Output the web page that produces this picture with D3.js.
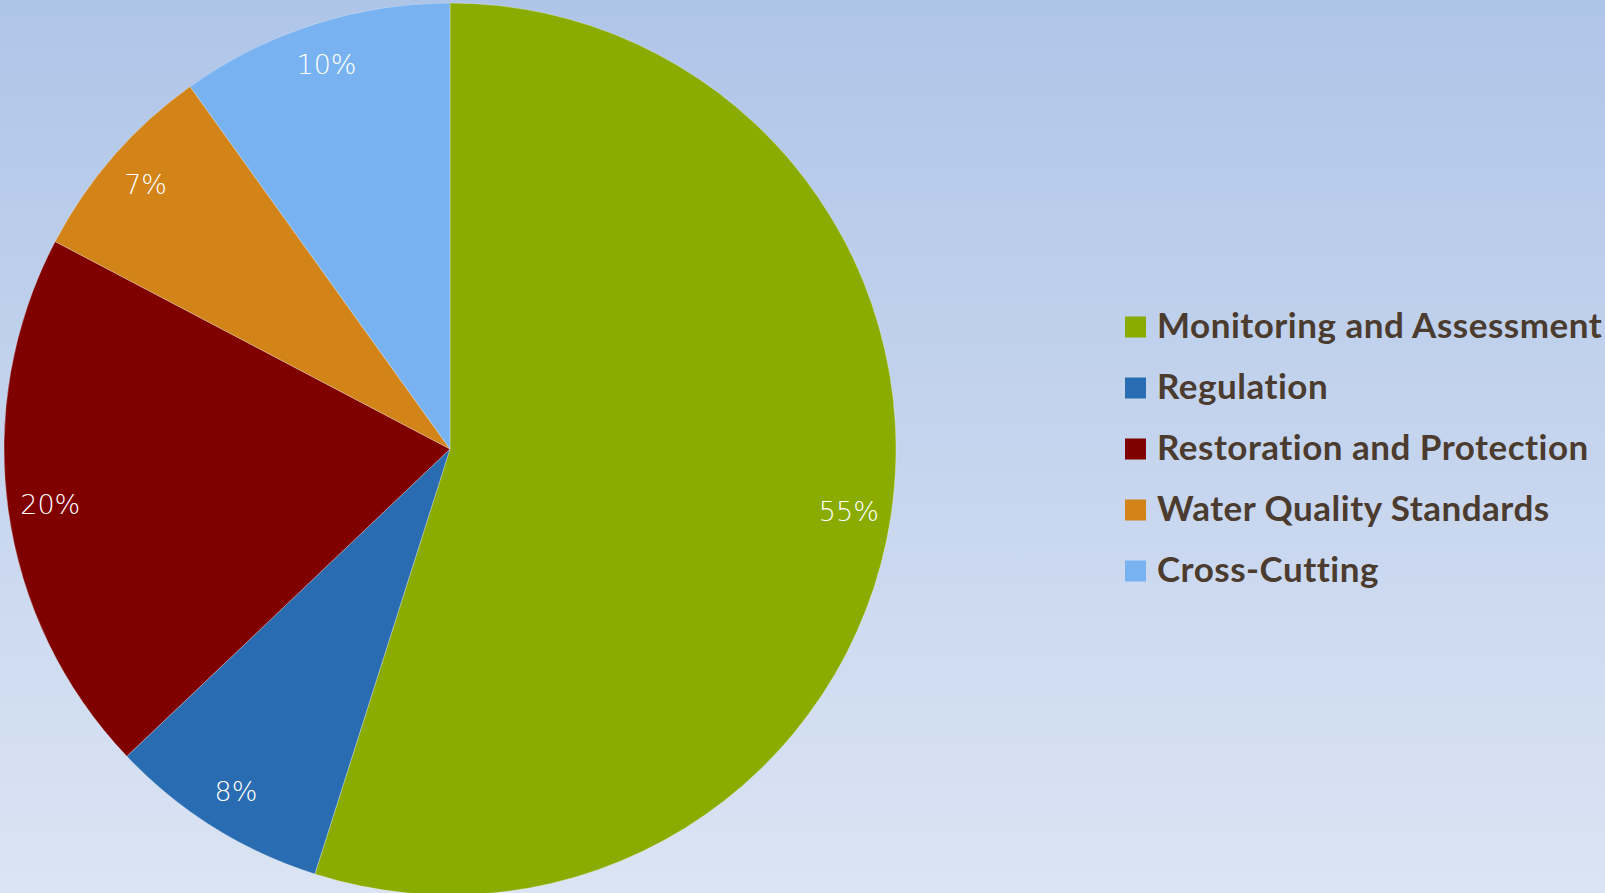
<!DOCTYPE html>
<html>
<head>
<meta charset="utf-8">
<script src="https://cdn.jsdelivr.net/npm/d3@7"></script>
<style>
  body { margin: 0; overflow: hidden; }
  svg { display: block; }
</style>
</head>
<body>
<svg width="1605" height="893"></svg>
<script>
const width = 1605;
const height = 893;

// data
const categories = ["Monitoring and Assessment", "Regulation", "Restoration and Protection", "Water Quality Standards", "Cross-Cutting"];
const shares = [54.9, 8.0, 19.8, 7.4, 9.9];
const labels = ["55%", "8%", "20%", "7%", "10%"];
const colors = ["#8aab00", "#2a6cb1", "#800000", "#d28418", "#78b2f0"];

const data = categories.map((c, i) => ({name: c, value: shares[i], label: labels[i]}));

const svg = d3.select("svg");

// background gradient
const defs = svg.append("defs");
const grad = defs.append("linearGradient")
    .attr("id", "bg")
    .attr("x1", 0).attr("y1", 0)
    .attr("x2", 0).attr("y2", 1);
grad.append("stop").attr("offset", "0%").attr("stop-color", "#afc5e8");
grad.append("stop").attr("offset", "100%").attr("stop-color", "#dbe4f4");

svg.append("rect")
    .attr("width", width)
    .attr("height", height)
    .attr("fill", "url(#bg)");

// pie
const cx = 450, cy = 449, radius = 446;

const pie = d3.pie()
    .value(d => d.value)
    .sort(null);

const arc = d3.arc()
    .innerRadius(0)
    .outerRadius(radius);

// labels sit a bit further out than the default centroid
const labelArc = d3.arc()
    .innerRadius(radius * 0.81)
    .outerRadius(radius);

const g = svg.append("g")
    .attr("transform", `translate(${cx}, ${cy})`);

g.selectAll("path.slice")
    .data(pie(data))
    .enter().append("path")
    .attr("class", "slice")
    .attr("d", arc)
    .attr("fill", (d, i) => colors[i])
    .attr("stroke", "rgba(255,255,255,0.35)")
    .attr("stroke-width", 0.8);

g.selectAll("text.pct")
    .data(pie(data))
    .enter().append("text")
    .attr("class", "pct")
    .attr("transform", d => `translate(${labelArc.centroid(d)})`)
    .attr("text-anchor", "middle")
    .attr("dy", "0.36em")
    .attr("fill", "#ffffff")
    .style("font-family", "'DejaVu Sans', sans-serif")
    .style("font-weight", "200")
    .style("font-size", "27px")
    .text(d => d.data.label);

// legend
const legend = svg.selectAll(".legend")
    .data(data)
    .enter().append("g")
    .attr("class", "legend")
    .attr("transform", (d, i) => `translate(1125, ${327 + i * 61})`);

legend.append("rect")
    .attr("x", 0)
    .attr("y", -10.5)
    .attr("width", 21)
    .attr("height", 21)
    .attr("fill", (d, i) => colors[i]);

legend.append("text")
    .attr("x", 32)
    .attr("y", 11)
    .attr("fill", "#4b3c2f")
    .style("font-family", "Lato, 'Open Sans', sans-serif")
    .style("font-weight", "bold")
    .style("font-size", "35px")
    .style("letter-spacing", "0.5px")
    .text(d => d.name);
</script>
</body>
</html>
